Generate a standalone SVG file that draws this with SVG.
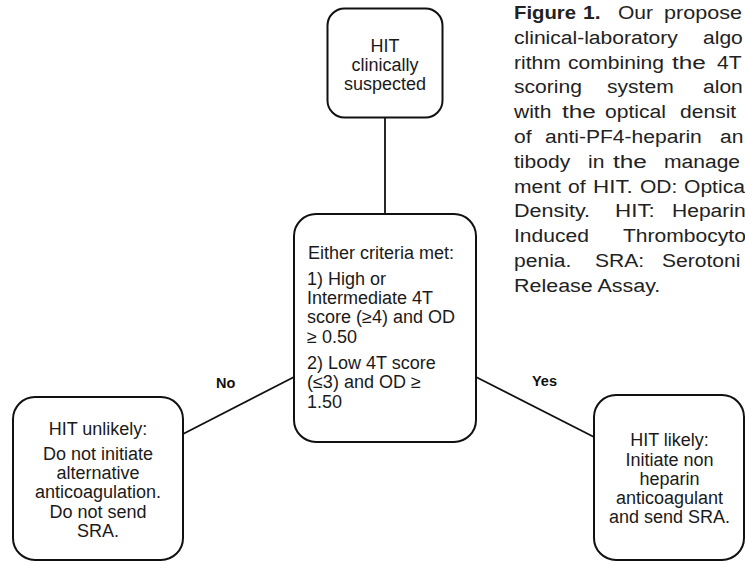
<svg xmlns="http://www.w3.org/2000/svg" width="745" height="562" viewBox="0 0 745 562">
<style>
.box{fill:#fff;stroke:#111;stroke-width:2}
.conn{stroke:#111;stroke-width:1.8;fill:none}
.t{font-family:"Liberation Sans",Arial,sans-serif;font-size:18px;fill:#1a1a1a}
.c{text-anchor:middle}
.lbl{font-family:"Liberation Sans",Arial,sans-serif;font-size:14.5px;font-weight:bold;fill:#111}
.cap text{font-family:"Liberation Sans",Arial,sans-serif;font-size:18px;fill:#222}
.cap .b{font-weight:bold}
</style>
<rect width="745" height="562" fill="#fff"/>
<g id="connectors">
<line class="conn" x1="385" y1="117" x2="385" y2="214"/>
<line class="conn" x1="183" y1="434" x2="294" y2="377"/>
<line class="conn" x1="476" y1="377" x2="594" y2="437"/>
</g>
<g id="edge-labels">
<text class="lbl" x="216" y="388">No</text>
<text class="lbl" x="532" y="386">Yes</text>
</g>
<g id="node-suspected">
<rect class="box" x="327.5" y="8.5" width="115" height="109" rx="17"/>
<text class="t c" x="385" y="52">HIT</text>
<text class="t c" x="385" y="71">clinically</text>
<text class="t c" x="385" y="90">suspected</text>
</g>
<g id="node-criteria">
<rect class="box" x="294" y="214" width="182" height="228" rx="22"/>
<text class="t" x="308" y="259">Either criteria met:</text>
<text class="t" x="307" y="285">1) High or</text>
<text class="t" x="307" y="304">Intermediate 4T</text>
<text class="t" x="307" y="323">score (≥4) and OD</text>
<text class="t" x="307" y="342.5">≥ 0.50</text>
<text class="t" x="307" y="369">2) Low 4T score</text>
<text class="t" x="307" y="388">(≤3) and OD ≥</text>
<text class="t" x="307" y="408">1.50</text>
</g>
<g id="node-unlikely">
<rect class="box" x="13" y="397" width="170" height="163" rx="22"/>
<text class="t c" x="98" y="435">HIT unlikely:</text>
<text class="t c" x="98" y="460">Do not initiate</text>
<text class="t c" x="98" y="479">alternative</text>
<text class="t c" x="98" y="498">anticoagulation.</text>
<text class="t c" x="98" y="517.5">Do not send</text>
<text class="t c" x="98" y="537">SRA.</text>
</g>
<g id="node-likely">
<rect class="box" x="594" y="395" width="150" height="165" rx="22"/>
<text class="t c" x="669.5" y="446">HIT likely:</text>
<text class="t c" x="669.5" y="466">Initiate non</text>
<text class="t c" x="669.5" y="484.5">heparin</text>
<text class="t c" x="669.5" y="503.5">anticoagulant</text>
<text class="t c" x="669.5" y="523">and send SRA.</text>
</g>
<g id="caption" class="cap">
<text class="b" x="514" y="19" textLength="62" lengthAdjust="spacingAndGlyphs">Figure</text>
<text class="b" x="583" y="19" textLength="17.6" lengthAdjust="spacingAndGlyphs">1.</text>
<text x="618" y="19" textLength="35.1" lengthAdjust="spacingAndGlyphs">Our</text>
<text x="664" y="19" textLength="78" lengthAdjust="spacingAndGlyphs">propose</text>
<text x="514" y="43.8" textLength="163.8" lengthAdjust="spacingAndGlyphs">clinical-laboratory</text>
<text x="703" y="43.8" textLength="39.8" lengthAdjust="spacingAndGlyphs">algo</text>
<text x="514" y="68.6" textLength="46.8" lengthAdjust="spacingAndGlyphs">rithm</text>
<text x="568" y="68.6" textLength="96" lengthAdjust="spacingAndGlyphs">combining</text>
<text x="672" y="68.6" textLength="33.9" lengthAdjust="spacingAndGlyphs">the</text>
<text x="717" y="68.6" textLength="24.6" lengthAdjust="spacingAndGlyphs">4T</text>
<text x="514" y="93.4" textLength="67.9" lengthAdjust="spacingAndGlyphs">scoring</text>
<text x="607" y="93.4" textLength="66.7" lengthAdjust="spacingAndGlyphs">system</text>
<text x="703" y="93.4" textLength="39.8" lengthAdjust="spacingAndGlyphs">alon</text>
<text x="514" y="118.2" textLength="37.4" lengthAdjust="spacingAndGlyphs">with</text>
<text x="562" y="118.2" textLength="33.9" lengthAdjust="spacingAndGlyphs">the</text>
<text x="605" y="118.2" textLength="60.9" lengthAdjust="spacingAndGlyphs">optical</text>
<text x="680" y="118.2" textLength="56.2" lengthAdjust="spacingAndGlyphs">densit</text>
<text x="514" y="143" textLength="17.6" lengthAdjust="spacingAndGlyphs">of</text>
<text x="545" y="143" textLength="156.8" lengthAdjust="spacingAndGlyphs">anti-PF4-heparin</text>
<text x="720" y="143" textLength="23.4" lengthAdjust="spacingAndGlyphs">an</text>
<text x="514" y="167.8" textLength="56.2" lengthAdjust="spacingAndGlyphs">tibody</text>
<text x="588" y="167.8" textLength="16.4" lengthAdjust="spacingAndGlyphs">in</text>
<text x="613" y="167.8" textLength="33.9" lengthAdjust="spacingAndGlyphs">the</text>
<text x="664" y="167.8" textLength="76.1" lengthAdjust="spacingAndGlyphs">manage</text>
<text x="514" y="192.6" textLength="46.8" lengthAdjust="spacingAndGlyphs">ment</text>
<text x="568" y="192.6" textLength="17.6" lengthAdjust="spacingAndGlyphs">of</text>
<text x="593" y="192.6" textLength="39.8" lengthAdjust="spacingAndGlyphs">HIT.</text>
<text x="640" y="192.6" textLength="37.4" lengthAdjust="spacingAndGlyphs">OD:</text>
<text x="684" y="192.6" textLength="60.9" lengthAdjust="spacingAndGlyphs">Optica</text>
<text x="514" y="217.4" textLength="76.1" lengthAdjust="spacingAndGlyphs">Density.</text>
<text x="615" y="217.4" textLength="39.8" lengthAdjust="spacingAndGlyphs">HIT:</text>
<text x="672" y="217.4" textLength="73.7" lengthAdjust="spacingAndGlyphs">Heparin</text>
<text x="514" y="242.2" textLength="74.9" lengthAdjust="spacingAndGlyphs">Induced</text>
<text x="623" y="242.2" textLength="122.9" lengthAdjust="spacingAndGlyphs">Thrombocyto</text>
<text x="514" y="267" textLength="57.4" lengthAdjust="spacingAndGlyphs">penia.</text>
<text x="595" y="267" textLength="49.2" lengthAdjust="spacingAndGlyphs">SRA:</text>
<text x="662" y="267" textLength="78.4" lengthAdjust="spacingAndGlyphs">Serotoni</text>
<text x="514" y="291.8" textLength="146.3" lengthAdjust="spacingAndGlyphs">Release Assay.</text>
</g>
</svg>
